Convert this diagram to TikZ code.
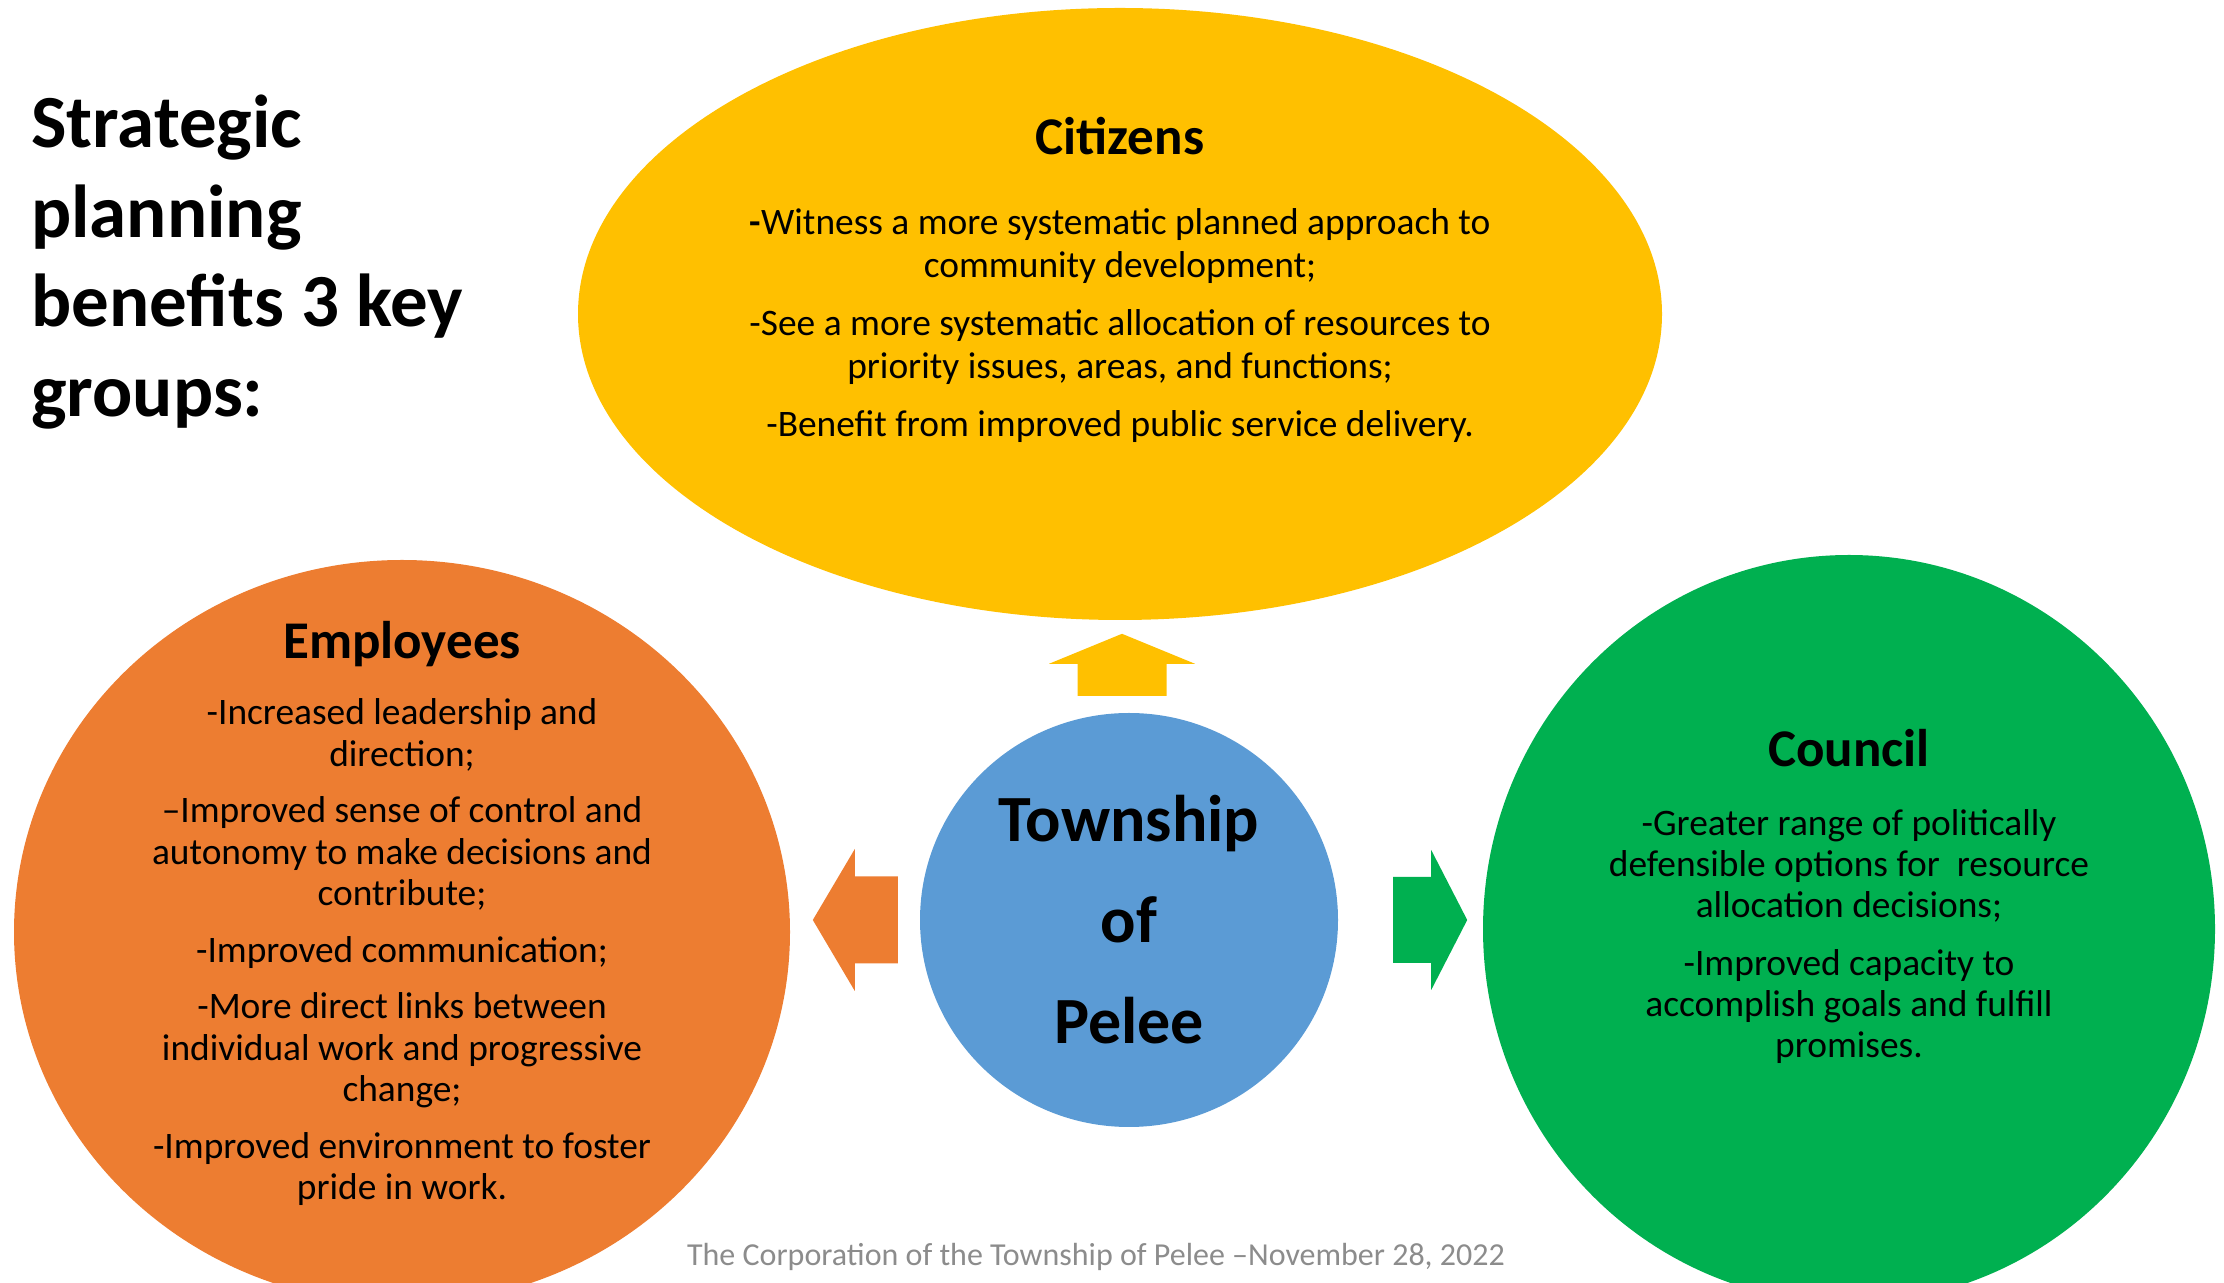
\documentclass[tikz,border=0pt]{standalone}
\usepackage{fontspec}
\setmainfont{Carlito}
\usepackage{tikz}
\usetikzlibrary{shapes,positioning}

\definecolor{citizens}{HTML}{FFC000}
\definecolor{employees}{HTML}{ED7D31}
\definecolor{council}{HTML}{00B050}
\definecolor{township}{HTML}{5B9BD5}
\definecolor{footgray}{HTML}{8C8C8C}

\begin{document}
\begin{tikzpicture}[x=1pt, y=1pt,
      group/.style={ellipse, inner sep=0pt},
      heading/.style={inner sep=0pt, font=\fontsize{53}{64}\selectfont\bfseries},
      points/.style={inner sep=0pt, align=center, font=\fontsize{37.4}{41.5}\selectfont}]
    \useasboundingbox (0,0) rectangle (2224,1282);
    \clip (0,0) rectangle (2224,1282);

    % the three groups and the township in the middle
    \node (cit) [group, fill=citizens, minimum width=1084pt, minimum height=612pt] at (1120,968) {};
    \node (emp) [group, fill=employees, minimum width=776pt, minimum height=744pt] at (402,350) {};
    \node (cou) [group, fill=council, minimum width=732pt, minimum height=748pt] at (1849,353) {};
    \node (hub) [group, fill=township, minimum width=418pt, minimum height=414pt, align=center,
      font=\fontsize{66}{101}\selectfont\bfseries] at (1129,362) {Township\\of\\Pelee};

    % block arrows out of the township
    \coordinate (uptip) at ([xshift=-7pt, yshift=79pt]hub.north);
    \coordinate (lefttip) at ([xshift=-107pt]hub.west);
    \coordinate (righttip) at ([xshift=129pt]hub.east);
    \fill[citizens] (uptip) -- ++(73,-30) -- ++(-28.5,0) -- ++(0,-32) -- ++(-89,0)
      -- ++(0,32) -- ++(-28.5,0) -- cycle;
    \fill[employees] (lefttip) -- ++(42,71) -- ++(0,-27.5) -- ++(43,0) -- ++(0,-87)
      -- ++(-43,0) -- ++(0,-27.5) -- cycle;
    \fill[council] (righttip) -- ++(-36,70) -- ++(0,-27) -- ++(-38,0) -- ++(0,-86)
      -- ++(38,0) -- ++(0,-27) -- cycle;

    % headings and lists
    \node (citt) [heading, below=109pt of cit.north] {Citizens};
    \node (citp) [points, font=\fontsize{37.4}{43}\selectfont, below=53pt of citt]
      {{\bfseries -}Witness a more systematic planned approach to\\
       community development;\\[15pt]
       -See a more systematic allocation of resources to\\
       priority issues, areas, and functions;\\[15pt]
       -Benefit from improved public service delivery.};

    \node (empt) [heading, below=61pt of emp.north] {Employees};
    \node (empp) [points, below=32pt of empt]
      {-Increased leadership and\\
       direction;\\[15pt]
       –Improved sense of control and\\
       autonomy to make decisions and\\
       contribute;\\[15pt]
       -Improved communication;\\[15pt]
       -More direct links between\\
       individual work and progressive\\
       change;\\[15pt]
       -Improved environment to foster\\
       pride in work.};

    \node (cout) [heading, below=174pt of cou.north] {Council};
    \node (coup) [points, font=\fontsize{37.4}{41}\selectfont, below=43pt of cout]
      {-Greater range of politically\\
       defensible options for\ \ resource\\
       allocation decisions;\\[17pt]
       -Improved capacity to\\
       accomplish goals and fulfill\\
       promises.};

    \node (plan) [anchor=north west, inner sep=0pt, align=left,
      font=\fontsize{75}{89.5}\selectfont\bfseries] at (31,1187)
      {Strategic\\planning\\benefits 3 key\\groups:};
    \node (foot) [text=footgray, inner sep=0pt, font=\fontsize{32}{38}\selectfont] at (1096,25)
      {The Corporation of the Township of Pelee –November 28, 2022};
\end{tikzpicture}
\end{document}
